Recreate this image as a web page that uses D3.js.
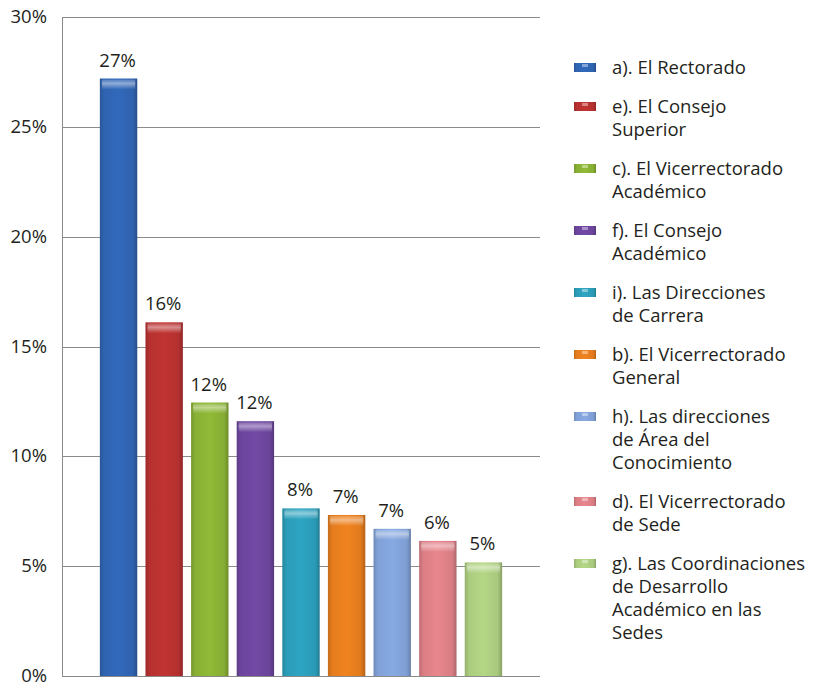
<!DOCTYPE html>
<html>
<head>
<meta charset="utf-8">
<script src="https://cdn.jsdelivr.net/npm/d3@7"></script>
<style>
  html, body { margin: 0; padding: 0; background: #fff; }
  svg { display: block; }
  text { font-family: "Open Sans", "Noto Sans", sans-serif; fill: #231f20; }
</style>
</head>
<body>
<svg id="chart" width="813" height="684"></svg>
<script>
const categories = [
  "a). El Rectorado",
  "e). El Consejo Superior",
  "c). El Vicerrectorado Académico",
  "f). El Consejo Académico",
  "i). Las Direcciones de Carrera",
  "b). El Vicerrectorado General",
  "h). Las direcciones de Área del Conocimiento",
  "d). El Vicerrectorado de Sede",
  "g). Las Coordinaciones de Desarrollo Académico en las Sedes"
];
const legendLines = [
  ["a). El Rectorado"],
  ["e). El Consejo", "Superior"],
  ["c). El Vicerrectorado", "Académico"],
  ["f). El Consejo", "Académico"],
  ["i). Las Direcciones", "de Carrera"],
  ["b). El Vicerrectorado", "General"],
  ["h). Las direcciones", "de Área del", "Conocimiento"],
  ["d). El Vicerrectorado", "de Sede"],
  ["g). Las Coordinaciones", "de Desarrollo", "Académico en las", "Sedes"]
];
const values = [27.2, 16.1, 12.45, 11.6, 7.63, 7.33, 6.7, 6.15, 5.17];
const valueLabels = ["27%", "16%", "12%", "12%", "8%", "7%", "7%", "6%", "5%"];
const tickValues = [0, 5, 10, 15, 20, 25, 30];
const colors = ["#2f62ae", "#b3302f", "#86ad33", "#6a449a", "#2a9ab5", "#e07a1d", "#7e9ed3", "#d87d83", "#a8c87c"];

const FS = 18.5;
const svg = d3.select("#chart");
const x = d3.scaleBand().domain(d3.range(categories.length)).range([62, 540]).paddingInner(0.18).paddingOuter(0.83);
const y = d3.scaleLinear().domain([0, 30]).range([676, 17]);

const defs = svg.append("defs");
colors.forEach((c, i) => {
  const base = d3.color(c);
  const g = defs.append("linearGradient").attr("id", "g" + i).attr("x1", "0").attr("x2", "1").attr("y1", "0").attr("y2", "0");
  g.append("stop").attr("offset", "0").attr("stop-color", base.darker(0.35));
  g.append("stop").attr("offset", "0.12").attr("stop-color", base.brighter(0.05));
  g.append("stop").attr("offset", "0.5").attr("stop-color", base.brighter(0.2));
  g.append("stop").attr("offset", "0.88").attr("stop-color", base);
  g.append("stop").attr("offset", "1").attr("stop-color", base.darker(0.6));
  const t = defs.append("linearGradient").attr("id", "t" + i).attr("x1", "0").attr("x2", "0").attr("y1", "0").attr("y2", "1");
  t.append("stop").attr("offset", "0").attr("stop-color", "#fff").attr("stop-opacity", 0.15);
  t.append("stop").attr("offset", "0.4").attr("stop-color", "#fff").attr("stop-opacity", 0.45);
  t.append("stop").attr("offset", "1").attr("stop-color", "#fff").attr("stop-opacity", 0);
});

// gridlines + axis
const yAxis = d3.axisLeft(y).tickValues(tickValues).tickSize(-(540 - 62)).tickFormat(d => d + "%");
const ga = svg.append("g").attr("transform", "translate(62,0)").call(yAxis);
ga.select(".domain").attr("stroke", "#8a8a8a");
ga.selectAll(".tick line").attr("stroke", "#8a8a8a").attr("stroke-width", 1);
ga.selectAll(".tick text").attr("x", -15).attr("font-size", FS).attr("fill", "#231f20")
  .style("font-family", '"Open Sans", sans-serif');
ga.selectAll(".tick").attr("transform", d => `translate(0,${Math.round(y(d)) + 0.5})`);

// bars
const bars = svg.append("g");
bars.selectAll("rect.bar").data(values).join("rect").attr("class", "bar")
  .attr("x", (d, i) => x(i)).attr("width", x.bandwidth())
  .attr("y", d => y(d)).attr("height", d => y(0) - y(d))
  .attr("fill", (d, i) => `url(#g${i})`);
bars.selectAll("rect.top").data(values).join("rect").attr("class", "top")
  .attr("x", (d, i) => x(i) + 2).attr("width", x.bandwidth() - 4)
  .attr("y", d => y(d) + 1).attr("height", 10)
  .attr("fill", (d, i) => `url(#t${i})`);

// value labels
svg.append("g").selectAll("text").data(values).join("text")
  .attr("x", (d, i) => x(i) + x.bandwidth() / 2 - 1)
  .attr("y", d => y(d) - 12)
  .attr("text-anchor", "middle").attr("font-size", FS)
  .text((d, i) => valueLabels[i]);

// legend
const lineH = 23, gap = 16;
let ly = 68;
const lg = svg.append("g");
legendLines.forEach((lines, i) => {
  lg.append("rect").attr("x", 574).attr("y", ly - 5).attr("width", 22).attr("height", 9).attr("fill", `url(#g${i})`);
  lg.append("rect").attr("x", 582).attr("y", ly - 4).attr("width", 6).attr("height", 3).attr("fill", "#fff").attr("opacity", 0.4);
  lines.forEach((ln, j) => {
    lg.append("text").attr("x", 612).attr("y", ly + j * lineH).attr("dy", "0.35em")
      .attr("font-size", FS).text(ln);
  });
  ly += lines.length * lineH + gap;
});
</script>
</body>
</html>
